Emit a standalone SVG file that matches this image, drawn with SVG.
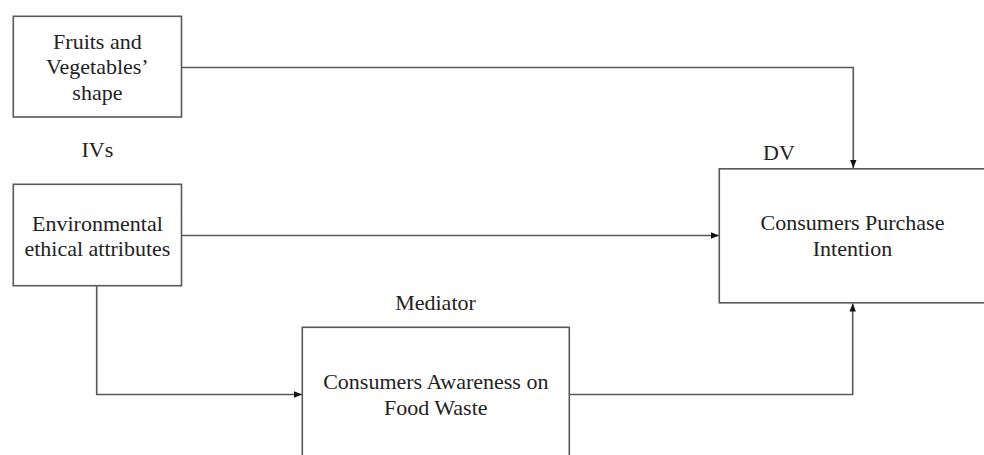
<svg xmlns="http://www.w3.org/2000/svg" width="984" height="455" viewBox="0 0 984 455">
<style>
.box{fill:#fff;stroke:#595959;stroke-width:1.6}
.t{font-family:"Liberation Serif","Times New Roman",serif;font-size:22px;fill:#222;text-anchor:middle}
.c{fill:none;stroke:#595959;stroke-width:1.6}
</style>
<defs>
<marker id="ah" viewBox="0 0 10 10" refX="10" refY="5" markerWidth="8" markerHeight="8" markerUnits="userSpaceOnUse" orient="auto">
<path d="M0,1 L10,5 L0,9 z" fill="#111"/>
</marker>
</defs>
<rect width="984" height="455" fill="#fff"/>
<g id="connectors">
<path class="c" d="M181.5,67.5 H853.3 V168" marker-end="url(#ah)"/>
<path class="c" d="M181.5,235.5 H719" marker-end="url(#ah)"/>
<path class="c" d="M96.7,285.7 V394.5 H302" marker-end="url(#ah)"/>
<path class="c" d="M569.3,394.5 H852.7 V303.5" marker-end="url(#ah)"/>
</g>
<g id="fruits">
<rect class="box" x="13.3" y="16.3" width="168.2" height="100.7"/>
<text class="t" x="97.4" y="48.5">Fruits and</text>
<text class="t" x="97.4" y="74">Vegetables’</text>
<text class="t" x="97.4" y="99.5">shape</text>
</g>
<g id="ivs-label"><text class="t" x="97.4" y="157">IVs</text></g>
<g id="environmental">
<rect class="box" x="13.3" y="184.3" width="168.2" height="101.4"/>
<text class="t" x="97.4" y="230.5">Environmental</text>
<text class="t" x="97.4" y="256.3">ethical attributes</text>
</g>
<g id="dv-label"><text class="t" x="779" y="160">DV</text></g>
<g id="purchase">
<rect class="box" x="719.3" y="168.8" width="280" height="134"/>
<text class="t" x="852.5" y="230">Consumers Purchase</text>
<text class="t" x="852.5" y="256">Intention</text>
</g>
<g id="mediator-label"><text class="t" x="435.5" y="310">Mediator</text></g>
<g id="awareness">
<rect class="box" x="302.3" y="327.3" width="267" height="150"/>
<text class="t" x="435.8" y="388.7">Consumers Awareness on</text>
<text class="t" x="435.8" y="414.5">Food Waste</text>
</g>
</svg>
